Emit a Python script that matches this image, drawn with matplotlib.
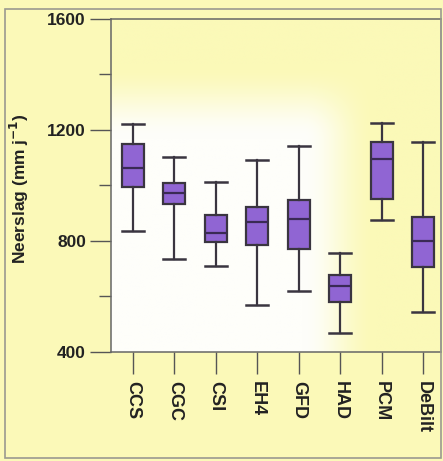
import numpy as np
import matplotlib
matplotlib.use('Agg')
import matplotlib.pyplot as plt
from matplotlib.patches import Rectangle
from matplotlib.ticker import MultipleLocator

# ================= 1. 数据 =================
models = ['CCS', 'CGC', 'CSI', 'EH4', 'GFD', 'HAD', 'PCM', 'DeBilt']
whislo = [837, 734, 711, 569, 620, 469, 877, 544]
q1     = [993, 933, 795, 787, 771, 579, 950, 706]
med    = [1062, 972, 828, 870, 878, 638, 1095, 801]
q3     = [1150, 1008, 894, 922, 946, 677, 1158, 888]
whishi = [1222, 1102, 1013, 1091, 1144, 755, 1226, 1158]

yticks = [400, 800, 1200, 1600]

plt.rcParams['font.family'] = ['Liberation Sans', 'DejaVu Sans']
plt.rcParams['font.weight'] = 'bold'

yellow = np.array([251, 249, 184]) / 255.0
white = np.array([254, 254, 250]) / 255.0

fig = plt.figure(figsize=(4.43, 4.61), dpi=100)
fig.patch.set_facecolor(yellow)
ax = fig.add_axes([111 / 443, 109 / 461, 330 / 443, 333 / 461])

# ================= 2. 背景渐变 (中间偏白) =================
def smooth(t):
    t = np.clip(t, 0, 1)
    return t * t * (3 - 2 * t)

gx, gy = np.meshgrid(np.linspace(0, 1, 300), np.linspace(0, 1, 300))
sx = 1 - smooth((gx - 0.58) / 0.22)
sy = 1 - smooth((gy - 0.64) / 0.22)
w = sx * sy
img = yellow[None, None, :] * (1 - w[..., None]) + white[None, None, :] * w[..., None]
ax.imshow(img, extent=(0, 1, 0, 1), origin='lower', transform=ax.transAxes,
          aspect='auto', zorder=0, interpolation='bilinear')

# ================= 3. 箱线图 =================
stats = []
for i, name in enumerate(models):
    stats.append({'label': name, 'whislo': whislo[i], 'q1': q1[i], 'med': med[i],
                  'q3': q3[i], 'whishi': whishi[i], 'fliers': []})

positions = np.arange(1, len(models) + 1)
edge = '#3a3540'
ax.bxp(stats, positions=positions, widths=0.53, capwidths=0.53, patch_artist=True,
       showfliers=False,
       boxprops=dict(facecolor='#9065d3', edgecolor=edge, linewidth=1.6),
       medianprops=dict(color='#3a2a55', linewidth=1.6),
       whiskerprops=dict(color=edge, linewidth=1.6),
       capprops=dict(color=edge, linewidth=1.8),
       zorder=3)

ax.set_xlim(0.47, 8.43)
ax.set_ylim(400, 1600)
ax.set_yticks(yticks)
ax.yaxis.set_minor_locator(MultipleLocator(200))
ax.set_xticks(positions)
ax.set_xticklabels(models, rotation=270, fontsize=13, fontweight='bold')
ax.tick_params(axis='y', which='major', length=15, width=1.0, colors='#555555',
               labelcolor='#222222', labelsize=12.5, pad=3)
ax.tick_params(axis='y', which='minor', length=9, width=1.0, colors='#555555')
ax.tick_params(axis='x', length=16, width=1.0, colors='#555555', labelcolor='#222222', pad=5)
for lab in ax.get_yticklabels():
    lab.set_fontweight('bold')

for s in ax.spines.values():
    s.set_color('#666666')
    s.set_linewidth(1.1)
ax.spines['right'].set_color('#888888')

ax.set_ylabel('Neerslag (mm j$^{\\mathbf{-1}}$)', fontsize=12.5, fontweight='bold',
              color='#222222')
ax.yaxis.set_label_coords(-0.243, 0.49)

# 外框
fig.patches.append(Rectangle((5 / 443, 3 / 461), 436 / 443, 449 / 461, transform=fig.transFigure,
                             fill=False, edgecolor='#9a9a90', linewidth=1.2))

fig.savefig('out.png', dpi=100, facecolor=fig.get_facecolor())
